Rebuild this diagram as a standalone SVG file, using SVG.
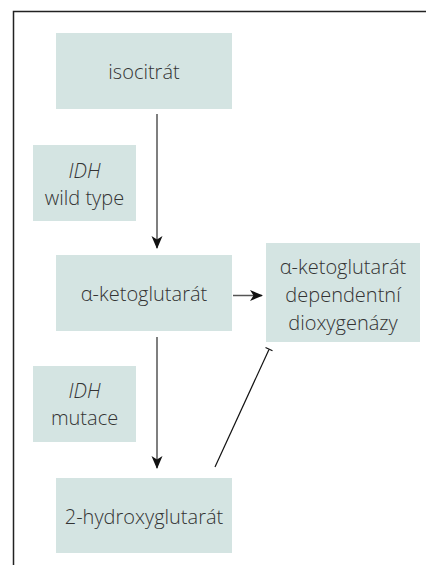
<svg xmlns="http://www.w3.org/2000/svg" width="426" height="565" viewBox="0 0 426 565">
<style>
.box{fill:#d4e4e2}
.t{font-family:"Open Sans","Noto Sans","Liberation Sans",sans-serif;font-size:20px;fill:#333;text-anchor:middle;font-weight:300}
.i{font-style:italic}
.c{stroke:#555;stroke-width:1.5;fill:none}
.inh{stroke:#111;stroke-width:1.2;fill:none}
</style>
<defs>
<marker id="ah" markerWidth="13" markerHeight="13" viewBox="0 0 13 13" refX="12" refY="6.5" orient="auto" markerUnits="userSpaceOnUse">
<path d="M0,1 L13,6.5 L0,12 L3.5,6.5 Z" fill="#111"/>
</marker>
</defs>
<rect x="0" y="0" width="426" height="565" fill="#fff"/>
<path d="M13.5,565 V11.5 H426" stroke="#222" stroke-width="1.5" fill="none"/>
<g id="isocitrat"><rect class="box" x="56" y="33" width="176" height="76"/><text class="t" x="144" y="79">isocitrát</text></g>
<g id="idh-wild"><rect class="box" x="33" y="145" width="103" height="76"/><text class="t i" x="84.5" y="178">IDH</text><text class="t" x="84.5" y="205">wild type</text></g>
<g id="aketo"><rect class="box" x="56" y="255" width="176" height="76"/><text class="t" x="144" y="301">α-ketoglutarát</text></g>
<g id="dioxy"><rect class="box" x="266" y="243" width="154" height="99"/><text class="t" x="343" y="274">α-ketoglutarát</text><text class="t" x="343" y="302">dependentní</text><text class="t" x="343" y="330">dioxygenázy</text></g>
<g id="idh-mut"><rect class="box" x="33" y="366" width="103" height="76"/><text class="t i" x="84.5" y="398">IDH</text><text class="t" x="84.5" y="425">mutace</text></g>
<g id="hydroxy"><rect class="box" x="56" y="478" width="176" height="75"/><text class="t" x="144" y="524">2-hydroxyglutarát</text></g>
<g id="connectors">
<line class="c" x1="157" y1="114" x2="157" y2="248" marker-end="url(#ah)"/>
<line class="c" x1="157" y1="337" x2="157" y2="468" marker-end="url(#ah)"/>
<line class="c" x1="233" y1="295.5" x2="262" y2="295.5" marker-end="url(#ah)"/>
<line class="inh" x1="215" y1="467" x2="269" y2="349.5"/>
<line class="inh" x1="265.5" y1="347.5" x2="272.5" y2="350.8"/>
</g>
</svg>
